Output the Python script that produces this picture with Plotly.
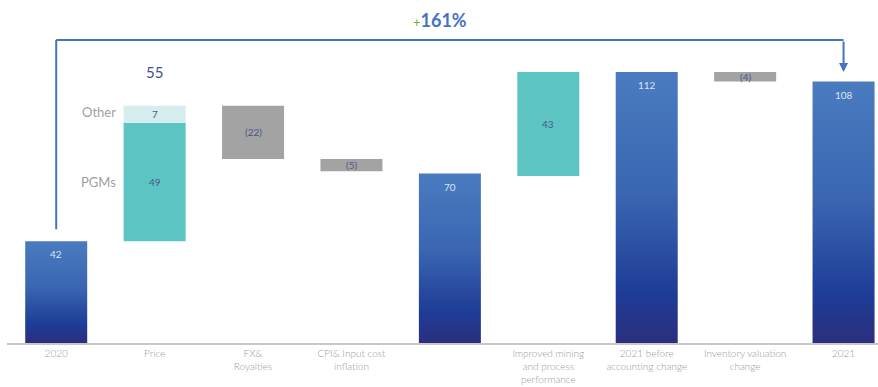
import plotly.graph_objects as go

# Category axis labels
categories = [
    "2020", "Price", "FX&<br>Royalties", "CPI& Input cost<br>inflation", "",
    "Improved mining<br>and process<br>performance",
    "2021 before<br>accounting change", "Inventory valuation<br>change", "2021",
]

# Totals (blue columns): category index -> value
total_idx = [0, 4, 6, 8]
total_vals = [42, 70, 112, 108]

# Price split
pgms_val = 49
other_val = 7
price_label = "55"

# Movements (grey = negative, teal = positive)
fx_val = -22
cpi_val = -5
improved_val = 43
inventory_val = -4

growth_label = "+161%"

BAR_W = 0.63
BLUE_SCALE = [[0.0, "#2B2F7D"], [0.18, "#1E3C96"], [0.55, "#3A66B2"], [1.0, "#4A7BBF"]]
TEAL = "#5CC5C4"
TEAL_LIGHT = "#D5EDEF"
GREY = "#A3A3A3"
LABEL_DARK = "#4A5788"
FONT = "Lato"

fig = go.Figure()

# Gradient-filled total columns
for i, v in zip(total_idx, total_vals):
    x0, x1 = i - BAR_W / 2, i + BAR_W / 2
    fig.add_trace(go.Scatter(
        x=[x0, x1, x1, x0, x0], y=[0, 0, v, v, 0],
        mode="lines", fill="toself", line=dict(width=0),
        fillgradient=dict(type="vertical", colorscale=BLUE_SCALE),
        hoverinfo="skip", showlegend=False,
    ))
    fig.add_annotation(x=i, y=v, text=str(v), showarrow=False, yshift=-13,
                       font=dict(size=10, color="#DCE4F3", family=FONT))

# Floating bars: price components and movements
start = total_vals[0]
pgms_base = start
other_base = pgms_base + pgms_val
after_price = other_base + other_val
fx_base = after_price + fx_val
cpi_base = fx_base + cpi_val
before_change = total_vals[2]
improved_base = before_change - improved_val
inventory_base = before_change + inventory_val

def fmt(v):
    return f"({abs(v)})" if v < 0 else str(v)

float_x = [1, 1, 2, 3, 5, 7]
float_base = [pgms_base, other_base, fx_base, cpi_base, improved_base, inventory_base]
float_h = [pgms_val, other_val, abs(fx_val), abs(cpi_val), improved_val, abs(inventory_val)]
float_raw = [pgms_val, other_val, fx_val, cpi_val, improved_val, inventory_val]
float_col = [TEAL, TEAL_LIGHT, GREY, GREY, TEAL, GREY]

fig.add_trace(go.Bar(
    x=float_x, y=float_h, base=float_base, width=BAR_W,
    marker=dict(color=float_col, line=dict(width=0)),
    hoverinfo="skip", showlegend=False,
))
for x, b, h, r in zip(float_x, float_base, float_h, float_raw):
    fig.add_annotation(x=x, y=b + h / 2, text=fmt(r), showarrow=False,
                       font=dict(size=10, color=LABEL_DARK, family=FONT))

# Price total and split legend
fig.add_annotation(x=1, y=112, text=price_label, showarrow=False,
                   font=dict(size=15, color="#3D4F9A", family=FONT))
fig.add_annotation(x=0.63, y=other_base + other_val / 2 + 1, text="Other", showarrow=False,
                   xanchor="right", font=dict(size=13, color="#A0A0A0", family=FONT))
fig.add_annotation(x=0.63, y=pgms_base + pgms_val / 2, text="PGMs", showarrow=False,
                   xanchor="right", font=dict(size=13, color="#A0A0A0", family=FONT))

# Bracket arrow from 2020 to 2021
ARROW = "#4472C4"
bracket_y = 125.2
fig.add_shape(type="line", x0=0, x1=0, y0=start + 5, y1=bracket_y,
              line=dict(color=ARROW, width=2))
fig.add_shape(type="line", x0=0, x1=8, y0=bracket_y, y1=bracket_y,
              line=dict(color=ARROW, width=2))
fig.add_annotation(x=8, y=before_change, ax=8, ay=bracket_y, xref="x", yref="y",
                   axref="x", ayref="y", text="", showarrow=True,
                   arrowhead=2, arrowsize=0.9, arrowwidth=2, arrowcolor=ARROW)
fig.add_annotation(x=3.9, y=133.5, showarrow=False,
                   text="<span style='color:#6CB33F;font-size:13px'>+</span><b>"
                        + growth_label[1:] + "</b>",
                   font=dict(size=18, color=ARROW, family=FONT))

fig.update_layout(
    width=878, height=387,
    margin=dict(l=7, r=0, t=0, b=44),
    paper_bgcolor="white", plot_bgcolor="white",
    font=dict(family=FONT),
    xaxis=dict(range=[-0.5, 8.35], tickvals=list(range(len(categories))),
               ticktext=categories, showgrid=False, zeroline=False,
               showline=True, linecolor="#C8C8C8", linewidth=1.5,
               tickfont=dict(size=10, color="#9A9A9A", family=FONT, weight=300),
               ticks="", fixedrange=True),
    yaxis=dict(range=[0, 141.7], visible=False, fixedrange=True),
)

fig.write_html("out.html")
